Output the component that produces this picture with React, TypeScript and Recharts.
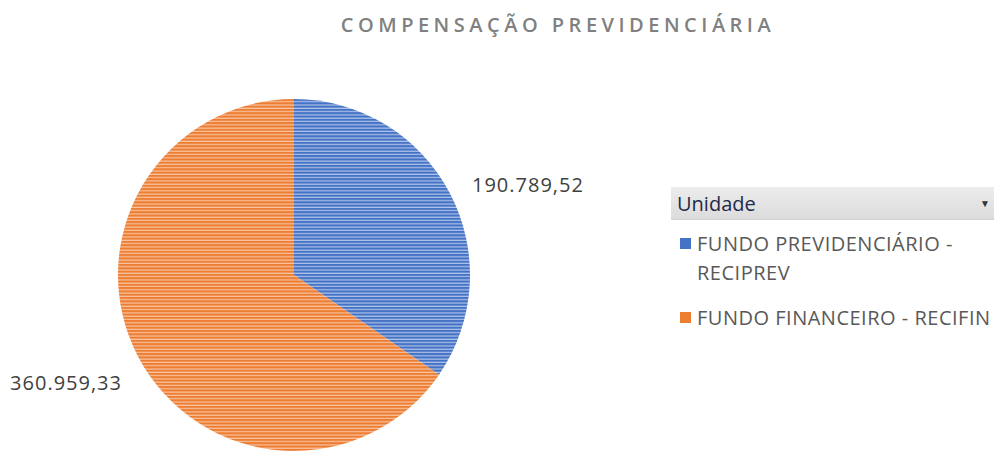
import React from "react";
import { PieChart, Pie, Cell } from "recharts";

const categories = ["FUNDO PREVIDENCIÁRIO - RECIPREV", "FUNDO FINANCEIRO - RECIFIN"];
const legendLines = [["FUNDO PREVIDENCIÁRIO -", "RECIPREV"], ["FUNDO FINANCEIRO - RECIFIN"]];
const values = [190789.52, 360959.33];
const valueLabels = ["190.789,52", "360.959,33"];
const colors = ["#4472C4", "#ED7D31"];
const stripeColors = ["#AFC3EA", "#F8C4A2"];
const title = "COMPENSAÇÃO PREVIDENCIÁRIA";
const legendTitle = "Unidade";

const data = categories.map((name, i) => ({ name, value: values[i], label: valueLabels[i] }));

const RADIAN = Math.PI / 180;
const FONT = "'Open Sans', 'Noto Sans', sans-serif";

const renderLabel = (props: any) => {
  const { cx, cy, midAngle, outerRadius, index } = props;
  const r = outerRadius + 24;
  const x = cx + r * Math.cos(-midAngle * RADIAN);
  const y = cy + r * Math.sin(-midAngle * RADIAN);
  const right = x > cx;
  return (
    <text
      x={right ? x + 1 : x + 5}
      y={right ? y + 3 : y + 14}
      textAnchor={right ? "start" : "end"}
      dominantBaseline="central"
      fill="#404040"
      fontSize={20}
      letterSpacing={1}
      fontFamily={FONT}
    >
      {data[index].label}
    </text>
  );
};

const LegendBox = () => (
  <div style={{ position: "absolute", left: 671, top: 187, width: 323, fontFamily: FONT }}>
    <div
      style={{
        height: 33,
        background: "linear-gradient(#ececec, #dcdcdc)",
        borderBottom: "1px solid #d0d0d0",
        display: "flex",
        alignItems: "center",
        justifyContent: "space-between",
        padding: "0 4px 0 6px",
        boxSizing: "border-box",
      }}
    >
      <span style={{ color: "#1f2a4a", fontSize: 20 }}>{legendTitle}</span>
      <span style={{ color: "#333", fontSize: 10 }}>▼</span>
    </div>
    {legendLines.map((lines, i) => (
      <div key={i} style={{ display: "flex", alignItems: "flex-start", marginTop: i === 0 ? 9 : 16 }}>
        <div style={{ width: 11, height: 11, background: colors[i], margin: "9px 6px 0 9px", flexShrink: 0 }} />
        <div style={{ color: "#595959", fontSize: 20, letterSpacing: 0.5, lineHeight: "29px", whiteSpace: "nowrap" }}>
          {lines.map((l, j) => (
            <div key={j}>{l}</div>
          ))}
        </div>
      </div>
    ))}
  </div>
);

export default function App() {
  return (
    <div style={{ position: "relative", width: 994, height: 452, background: "#fff", overflow: "hidden" }}>
      <style>{`body{margin:0}`}</style>
      <svg width={0} height={0} style={{ position: "absolute" }}>
        <defs>
          {colors.map((c, i) => (
            <pattern key={i} id={`stripe${i}`} patternUnits="userSpaceOnUse" width={6} height={3.3}>
              <rect x={0} y={0} width={6} height={3.3} fill={c} />
              <rect x={0} y={2.1} width={6} height={1.2} fill={stripeColors[i]} />
            </pattern>
          ))}
        </defs>
      </svg>
      <div
        style={{
          position: "absolute",
          left: 0,
          top: 11,
          width: 1116,
          textAlign: "center",
          fontFamily: FONT,
          fontWeight: 600,
          fontSize: 20,
          letterSpacing: 4.5,
          color: "#808080",
        }}
      >
        {title}
      </div>
      <PieChart width={994} height={452} margin={{ top: 0, right: 0, bottom: 0, left: 0 }}>
        <Pie
          data={data}
          dataKey="value"
          nameKey="name"
          cx={294}
          cy={275}
          outerRadius={176}
          startAngle={90}
          endAngle={-270}
          stroke="none"
          label={renderLabel}
          labelLine={false}
          isAnimationActive={false}
        >
          {data.map((_, i) => (
            <Cell key={i} fill={`url(#stripe${i})`} />
          ))}
        </Pie>
      </PieChart>
      <LegendBox />
    </div>
  );
}
